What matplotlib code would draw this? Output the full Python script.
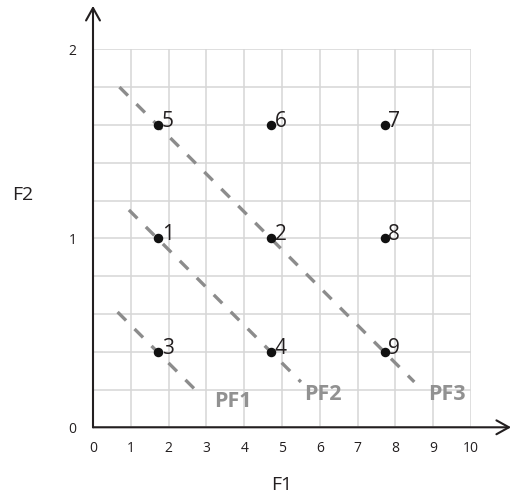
"""
Pareto fronts PF1-PF3 over nine candidate points in the F1/F2 plane
"""
import matplotlib
matplotlib.use("Agg")
import matplotlib.pyplot as plt

# point coordinates and labels
point_labels = ['1', '2', '3', '4', '5', '6', '7', '8', '9']
point_f1 = [1.73, 4.71, 1.73, 4.71, 1.73, 4.71, 7.72, 7.72, 7.72]
point_f2 = [1.0, 1.0, 0.4, 0.4, 1.6, 1.6, 1.6, 1.0, 0.4]

# dashed fronts (start / end)
front_names = ['PF1', 'PF2', 'PF3']
front_f1 = [[0.65, 2.85], [0.95, 5.5], [0.7, 8.5]]
front_f2 = [[0.61, 0.17], [1.15, 0.24], [1.8, 0.24]]

x_ticks = list(range(0, 11))
y_ticks = [0, 1, 2]

plt.rcParams['font.family'] = ['Open Sans', 'DejaVu Sans']
TXT = '#231f20'
GRAY = '#8c8c8c'

fig = plt.figure(figsize=(5.12, 5.0), dpi=100)
ax = fig.add_axes([93 / 512, 72.7 / 500, 378 / 512, 378 / 500])
ax.set_xlim(0, 10)
ax.set_ylim(0, 2)

# grid: every 1 on F1, every 0.2 on F2
ax.set_xticks(x_ticks)
ax.set_yticks(y_ticks)
ax.set_yticks([i / 5 for i in range(11)], minor=True)
ax.grid(True, which='both', color='#d6d6d6', linewidth=1.1, zorder=0)
ax.tick_params(axis='x', length=0, pad=10, labelsize=10, labelcolor=TXT)
ax.tick_params(axis='y', length=0, pad=12, labelsize=10, labelcolor=TXT)
ax.tick_params(which='minor', length=0)
for s in ax.spines.values():
    s.set_visible(False)

# axes with open arrowheads
arrow = dict(arrowstyle='->, head_length=0.9, head_width=0.5', color=TXT,
             lw=1.5, shrinkA=0, shrinkB=0)
ax.annotate('', xy=(11.06, 0), xytext=(0, 0), arrowprops=arrow,
            annotation_clip=False, zorder=5)
ax.annotate('', xy=(0, 2.23), xytext=(0, 0), arrowprops=arrow,
            annotation_clip=False, zorder=5)

# fronts
for fx, fy in zip(front_f1, front_f2):
    ax.plot(fx, fy, color=GRAY, lw=2.4, dashes=(3.6, 3.6), zorder=3,
            solid_capstyle='butt', dash_capstyle='butt')

# points
ax.scatter(point_f1, point_f2, s=34, color='#111111', zorder=4)
for lbl, x, y in zip(point_labels, point_f1, point_f2):
    ax.annotate(lbl, (x, y), xytext=(2.5, 2.5), textcoords='offset points',
                ha='left', va='center', fontsize=15, color=TXT, zorder=4)

front_label_pos = [(3.7, 0.136), (6.07, 0.176), (9.37, 0.176)]
for name, (lx, ly) in zip(front_names, front_label_pos):
    ax.text(lx, ly, name, ha='center', va='center', fontsize=15.5,
            fontweight='bold', color='#919191', zorder=4)

fig.text(22.5 / 512, 1 - 195 / 500, 'F2', ha='center', va='center',
         fontsize=14, color=TXT)
fig.text(281.7 / 512, 1 - 485.5 / 500, 'F1', ha='center', va='center',
         fontsize=14, color=TXT)

fig.savefig('out.png', dpi=100)
